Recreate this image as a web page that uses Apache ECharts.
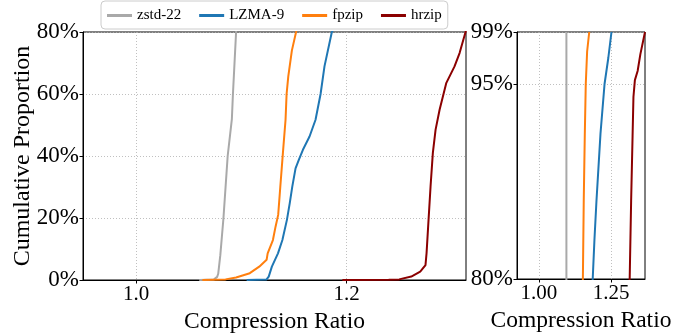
<!DOCTYPE html>
<html>
<head>
    <meta charset="utf-8">
    <title>CDF of compression ratio</title>
    <script src="https://cdn.jsdelivr.net/npm/echarts@6/dist/echarts.min.js"></script>
    <style>
        html, body { margin: 0; padding: 0; background: #fff; }
        #main { width: 691px; height: 333px; }
    </style>
</head>
<body>
<div id="main"></div>
<script>
    // ---- data (x = compression ratio, p = cumulative %) ----
    var names = ['zstd-22', 'LZMA-9', 'fpzip', 'hrzip'];
    var colors = ['#a9a9a9', '#1f77b4', '#ff7f0e', '#8b0000'];

    var zstdX = [1.060, 1.074, 1.077, 1.078, 1.080, 1.083, 1.087, 1.091, 1.092, 1.095, 1.095, 1.095];
    var zstdP = [0, 0.2, 1, 2, 8, 20, 40, 52, 60, 80, 90, 99];

    var lzmaX = [1.105, 1.124, 1.126, 1.129, 1.1348, 1.139, 1.1433, 1.146, 1.1484, 1.1515, 1.1547, 1.1585,
        1.1648, 1.1705, 1.1753, 1.179, 1.186, 1.192, 1.199, 1.213, 1.227, 1.240, 1.251];
    var lzmaP = [0, 0.2, 1.1, 4.3, 8.6, 12.9, 19.4, 24.8, 30.1, 36, 38.8, 42,
        46.3, 51.7, 60, 68.9, 80, 83, 86, 91.2, 95, 97, 99];

    var fpzipX = [1.063, 1.085, 1.095, 1.108, 1.117, 1.124, 1.125, 1.130, 1.1325, 1.135, 1.137, 1.1395,
        1.142, 1.143, 1.1446, 1.148, 1.152, 1.155, 1.1587, 1.162, 1.1667, 1.174];
    var fpzipP = [0, 0.2, 0.8, 2.2, 4.3, 6.5, 8.6, 12.9, 17.2, 21, 30, 41,
        51.7, 60, 65.7, 74, 80, 86, 91.2, 95, 97.5, 99];

    var hrzipX = [1.196, 1.240, 1.250, 1.2615, 1.270, 1.275, 1.276, 1.2779, 1.2798, 1.282, 1.2846, 1.2884,
        1.2947, 1.3026, 1.3074, 1.3128, 1.314, 1.319, 1.324, 1.327, 1.332, 1.3415, 1.351, 1.367];
    var hrzipP = [0, 0.05, 0.2, 1.1, 2.7, 4.8, 8.6, 19.4, 30.1, 41, 48.5, 54.9,
        63.5, 68.9, 73.2, 79.7, 80, 86, 91, 94, 95.3, 96, 97.3, 99];

    // tick labels
    var leftXTicks = [1.0, 1.2];
    var leftYTicks = [0, 20, 40, 60, 80];
    var rightXTicks = [1.00, 1.25];
    var rightYTicks = [80, 95, 99];

    var allX = [zstdX, lzmaX, fpzipX, hrzipX];
    var allP = [zstdP, lzmaP, fpzipP, hrzipP];

    function pairs(xs, ps) {
        var out = [];
        for (var i = 0; i < xs.length; i++) out.push([xs[i], ps[i]]);
        return out;
    }

    var font = '"Liberation Serif", "Times New Roman", serif';
    var gridLine = {show: true, lineStyle: {color: '#b0b0b0', width: 0.8, type: [1, 2]}};

    function xAxisOf(idx, min, max, ticks, digits) {
        return {
            type: 'value', gridIndex: idx, min: min, max: max,
            name: 'Compression Ratio', nameLocation: 'middle', nameGap: 22,
            nameTextStyle: {fontFamily: font, fontSize: 23.5, color: '#000'},
            axisLine: {show: true, onZero: false, lineStyle: {color: '#000', width: 1}},
            axisTick: {show: true, length: 3.5, customValues: ticks, lineStyle: {color: '#000'}},
            axisLabel: {
                customValues: ticks, margin: 4, fontFamily: font, fontSize: 21, color: '#000',
                formatter: function (v) { return v.toFixed(digits); }
            },
            splitLine: gridLine
        };
    }

    function yAxisOf(idx, min, max, ticks, name) {
        return {
            type: 'value', gridIndex: idx, min: min, max: max,
            name: name, nameLocation: 'middle', nameGap: 48, nameMoveOverlap: false,
            nameTextStyle: {fontFamily: font, fontSize: 24, color: '#000'},
            axisLine: {show: true, onZero: false, lineStyle: {color: '#000', width: 1}},
            axisTick: {show: true, length: 3.5, customValues: ticks, lineStyle: {color: '#000'}},
            axisLabel: {
                customValues: ticks, margin: 4, fontFamily: font, fontSize: 23, color: '#000',
                formatter: function (v) { return v + '%'; }
            },
            splitLine: gridLine
        };
    }

    var series = [];
    for (var g = 0; g < 2; g++) {
        for (var s = 0; s < names.length; s++) {
            series.push({
                name: names[s],
                type: 'line',
                xAxisIndex: g,
                yAxisIndex: g,
                data: pairs(allX[s], allP[s]),
                showSymbol: false,
                smooth: false,
                clip: true,
                color: colors[s],
                lineStyle: {width: 2, color: colors[s]},
                z: 3
            });
        }
    }

    var chart = echarts.init(document.getElementById('main'), null, {renderer: 'canvas'});
    chart.setOption({
        animation: false,
        backgroundColor: '#fff',
        legend: {
            data: names,
            left: 101, top: 1,
            padding: [7, 6, 6, 6],
            itemGap: 18,
            itemWidth: 25, itemHeight: 3,
            icon: 'rect',
            borderColor: '#cccccc', borderWidth: 1, borderRadius: 4,
            textStyle: {fontFamily: font, fontSize: 15, color: '#000'}
        },
        grid: [
            {left: 83, right: 225, top: 32, bottom: 53, show: true, borderColor: '#000', borderWidth: 1,
                outerBoundsMode: 'none', containLabel: false},
            {left: 517, right: 46, top: 32, bottom: 54, show: true, borderColor: '#000', borderWidth: 1,
                outerBoundsMode: 'none', containLabel: false}
        ],
        xAxis: [
            xAxisOf(0, 0.9495, 1.3135, leftXTicks, 1),
            xAxisOf(1, 0.924, 1.367, rightXTicks, 2)
        ],
        yAxis: [
            yAxisOf(0, 0, 80, leftYTicks, 'Cumulative Proportion'),
            yAxisOf(1, 80, 99, rightYTicks, '')
        ],
        series: series
    });
</script>
</body>
</html>
